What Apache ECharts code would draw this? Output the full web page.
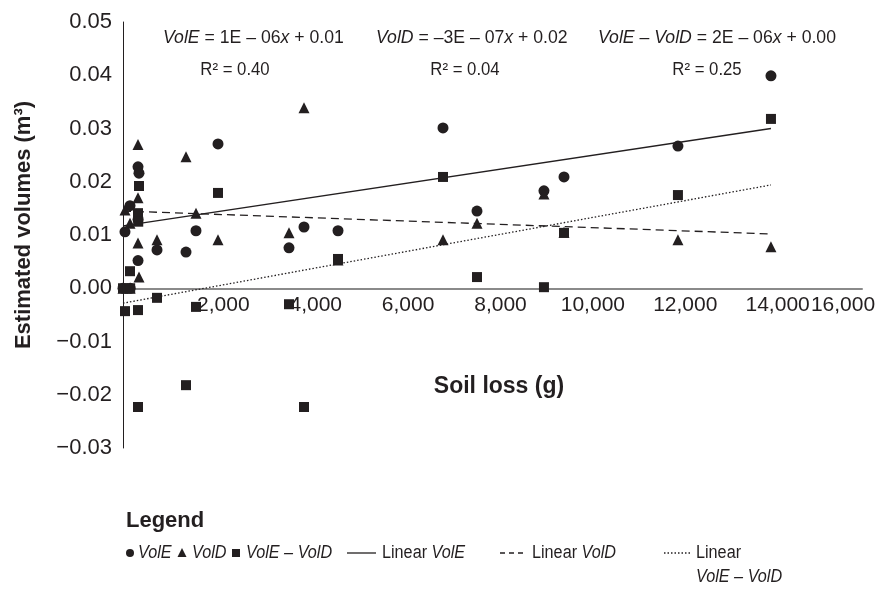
<!DOCTYPE html>
<html>
<head>
<meta charset="utf-8">
<script src="https://cdn.jsdelivr.net/npm/echarts@6/dist/echarts.min.js"></script>
<style>
html,body{margin:0;padding:0;background:#fff;}
#chart{width:896px;height:591px;}
</style>
</head>
<body>
<div id="chart"></div>
<script>
// Soil loss (g) for each plot
const soilLoss = [0, 43, 152, 155, 325, 325, 346, 325, 330, 736, 1364, 1580, 2057, 3594, 3919, 4655, 6928, 7664, 9114, 9548, 12015, 14029];
// Estimated volumes (m3)
const volE = [0, 0.0106, 0.0155, 0, 0.0052, 0.0228, 0.0216, 0.0129, null, 0.0072, 0.0068, 0.0108, 0.0271, 0.0076, 0.0115, 0.0108, 0.0301, 0.0145, 0.0183, 0.0209, 0.0267, 0.0399];
const volD = [0, 0.0147, 0.0122, 0, 0.0270, 0.0085, 0.0021, 0.0170, null, 0.0091, 0.0247, 0.0141, 0.0091, 0.0104, 0.0339, 0.0053, 0.0091, 0.0122, 0.0177, 0.0105, 0.0091, 0.0078];
const volDiff = [0, -0.0043, 0.0032, 0, -0.0223, 0.0141, 0.0192, -0.0041, 0.0125, -0.0018, -0.0182, -0.0035, 0.0179, -0.0030, -0.0223, 0.0055, 0.0209, 0.0021, 0.0002, 0.0104, 0.0175, 0.0318];
// Linear trend lines (start / end of fitted lines)
const trendE = [[0, 0.0117], [14029, 0.0300]];
const trendD = [[0, 0.0145], [14029, 0.0102]];
const trendDiff = [[0, -0.0028], [14029, 0.0194]];
// Equation labels
const eqLines = ['{i|VolE} = 1E – 06{i|x} + 0.01', '{i|VolD} = –3E – 07{i|x} + 0.02', '{i|VolE} – {i|VolD} = 2E – 06{i|x} + 0.00'];
const r2Lines = ['R² = 0.40', 'R² = 0.04', 'R² = 0.25'];
const yTicks = {min: -0.03, max: 0.05, interval: 0.01};
const xTicks = {min: 0, max: 16000, interval: 2000};

const INK = '#231f20';
const FONT = '"Liberation Sans", Arial, sans-serif';

function pairs(ys) {
  const out = [];
  for (let i = 0; i < soilLoss.length; i++) {
    if (ys[i] !== null) out.push([soilLoss[i], ys[i]]);
  }
  return out;
}

const GRID = {left: 123, right: 34, top: 22, bottom: 143};
const plotH = 591 - GRID.top - GRID.bottom;
const xAxisOffset = -plotH * (0 - yTicks.min) / (yTicks.max - yTicks.min);

const chart = echarts.init(document.getElementById('chart'), null, {renderer: 'canvas'});

const NS = 18;
const italicRich = {i: {fontStyle: 'italic', fontFamily: FONT, fontSize: NS, fill: INK}};
function txt(x, y, text, opts) {
  opts = opts || {};
  return {type: 'text', x: x, y: y, scaleX: opts.sx || 1, z: 10, style: {
    text: text, fill: INK, fontFamily: FONT, fontSize: opts.size || NS,
    fontStyle: opts.italic ? 'italic' : 'normal', fontWeight: opts.bold ? 'bold' : 'normal',
    align: opts.align || 'left', verticalAlign: 'middle', rich: italicRich
  }};
}

const eqX = [163, 376, 598];
const r2X = [235, 465, 707];
const graphic = [];
eqLines.forEach((t, i) => graphic.push(txt(eqX[i], 38, t, {sx: 0.98})));
r2Lines.forEach((t, i) => graphic.push(txt(r2X[i], 70, t, {align: 'center', sx: 0.93})));

// axis titles
graphic.push({type: 'text', x: 24, y: 225, rotation: Math.PI / 2, z: 10, style: {
  text: 'Estimated volumes (m³)', fill: INK, fontFamily: FONT, fontWeight: 'bold', fontSize: 22,
  align: 'center', verticalAlign: 'middle'}});
graphic.push({type: 'text', x: 499, y: 387, z: 10, style: {
  text: 'Soil loss (g)', fill: INK, fontFamily: FONT, fontWeight: 'bold', fontSize: 23,
  align: 'center', verticalAlign: 'middle'}});

// Legend block
const LSX = 0.9;
graphic.push({type: 'text', x: 126, y: 521, z: 10, style: {text: 'Legend', fill: INK, fontFamily: FONT, fontWeight: 'bold', fontSize: 22, verticalAlign: 'middle'}});
const ly = 553;
graphic.push({type: 'circle', shape: {cx: 130, cy: ly, r: 4}, style: {fill: INK}});
graphic.push(txt(138, ly, 'VolE', {italic: true, sx: LSX}));
graphic.push({type: 'polygon', shape: {points: [[182, ly - 5], [186.5, ly + 4], [177.5, ly + 4]]}, style: {fill: INK}});
graphic.push(txt(192, ly, 'VolD', {italic: true, sx: LSX}));
graphic.push({type: 'rect', shape: {x: 232, y: ly - 4, width: 8, height: 8}, style: {fill: INK}});
graphic.push(txt(246, ly, 'VolE – VolD', {italic: true, sx: LSX}));
graphic.push({type: 'line', shape: {x1: 347, y1: ly, x2: 376, y2: ly}, style: {stroke: INK, lineWidth: 1.3}});
graphic.push(txt(382, ly, 'Linear {i|VolE}', {sx: LSX}));
graphic.push({type: 'line', shape: {x1: 500, y1: ly, x2: 526, y2: ly}, style: {stroke: INK, lineWidth: 1.3, lineDash: [5, 4]}});
graphic.push(txt(532, ly, 'Linear {i|VolD}', {sx: LSX}));
graphic.push({type: 'line', shape: {x1: 664, y1: ly, x2: 690, y2: ly}, style: {stroke: INK, lineWidth: 1.3, lineDash: [1.5, 2]}});
graphic.push(txt(696, ly, 'Linear', {sx: LSX}));
graphic.push(txt(696, ly + 24, 'VolE – VolD', {italic: true, sx: LSX}));

const option = {
  backgroundColor: '#fff',
  animation: false,
  grid: {left: GRID.left, right: GRID.right, top: GRID.top, bottom: GRID.bottom, containLabel: false},
  xAxis: {
    type: 'value', min: xTicks.min, max: xTicks.max, interval: xTicks.interval,
    offset: xAxisOffset,
    axisLine: {onZero: false, lineStyle: {color: '#8a8a8a', width: 2}},
    axisTick: {show: false},
    splitLine: {show: false},
    axisLabel: {color: INK, fontFamily: FONT, fontSize: 21, margin: 6,
      showMaxLabel: true, showMinLabel: true, hideOverlap: false,
      formatter: v => v === 0 ? '' : (v === xTicks.max ? '{e|' : '{n|') + v.toLocaleString('en-US') + '}',
      rich: {
        n: {fontFamily: FONT, fontSize: 21, color: INK, padding: [0, 0, 0, 16]},
        e: {fontFamily: FONT, fontSize: 21, color: INK, padding: [0, 38, 0, 0]}
      }}
  },
  yAxis: {
    type: 'value', min: yTicks.min, max: yTicks.max, interval: yTicks.interval,
    axisLine: {show: true, onZero: false, lineStyle: {color: INK, width: 1}},
    axisTick: {show: false},
    splitLine: {show: false},
    axisLabel: {color: INK, fontFamily: FONT, fontSize: 22, margin: 11,
      formatter: v => (v < -1e-9 ? '\u2212' : '') + Math.abs(v).toFixed(2)}
  },
  graphic: graphic,
  series: [
    {type: 'line', data: trendE, showSymbol: false, symbol: 'none', lineStyle: {color: INK, width: 1.3}, z: 2},
    {type: 'line', data: trendD, showSymbol: false, symbol: 'none', lineStyle: {color: INK, width: 1.3, type: [8, 5]}, z: 2},
    {type: 'line', data: trendDiff, showSymbol: false, symbol: 'none', lineStyle: {color: INK, width: 1.3, type: [1.5, 2]}, z: 2},
    {type: 'scatter', name: 'VolE', data: pairs(volE), symbol: 'circle', symbolSize: 11, itemStyle: {color: INK, opacity: 1}, z: 3},
    {type: 'scatter', name: 'VolD', data: pairs(volD), symbol: 'triangle', symbolSize: 11, itemStyle: {color: INK, opacity: 1}, z: 3},
    {type: 'scatter', name: 'VolE – VolD', data: pairs(volDiff), symbol: 'rect', symbolSize: 10, itemStyle: {color: INK, opacity: 1}, z: 4}
  ]
};
chart.setOption(option);
</script>
</body>
</html>
